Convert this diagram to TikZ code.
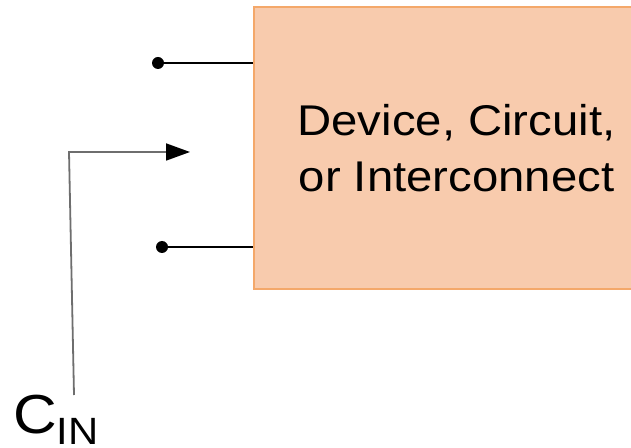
\documentclass[tikz,border=0pt]{standalone}
\usepackage{fontspec}
\setmainfont{Liberation Sans}[FakeStretch=1.1]
\usepackage{tikz}
\usetikzlibrary{positioning,calc,arrows.meta}
\definecolor{myfill}{RGB}{248,203,173}
\definecolor{myedge}{RGB}{244,168,106}
\definecolor{mygray}{RGB}{110,110,110}

\begin{document}
\begin{tikzpicture}[x=1pt,y=1pt,
        devbox/.style={draw=myedge,fill=myfill,line width=1.5pt,rectangle,
          minimum width=405pt,minimum height=282pt,align=center,
          font=\fontsize{43}{56}\selectfont},
        dotnode/.style={circle,fill=black,inner sep=0pt,minimum size=12pt},
        lead/.style={line width=1.5pt},
        ctrl/.style={draw=mygray,line width=1.8pt,
          -{Triangle[length=24pt,width=17pt,fill=black,color=black]}}
      ]
      \useasboundingbox (0,0) rectangle (631,447);
      \clip (0,0) rectangle (631,447);

      % the device
      \node [devbox] (dev) at (456.5,299) {Device, Circuit,\\or Interconnect};

      % the terminals
      \node [dotnode] (t1) at (158,384) {};
      \node [dotnode] (t2) at (162,200) {};
      \draw [lead] (t1) -- (t1 -| dev.west);
      \draw [lead] (t2) -- (t2 -| dev.west);

      % the control input
      \node [anchor=base west,inner sep=0pt] (cin) at (13,14)
        {\fontsize{55}{60}\selectfont C\raisebox{-11pt}{\fontsize{38}{40}\selectfont IN}};
      \coordinate (bend) at (69,295);
      \coordinate (tip) at (190,295);
      \draw [ctrl] (74,52) coordinate (foot) -- (bend) -- (tip);
 \end{tikzpicture}
\end{document}
